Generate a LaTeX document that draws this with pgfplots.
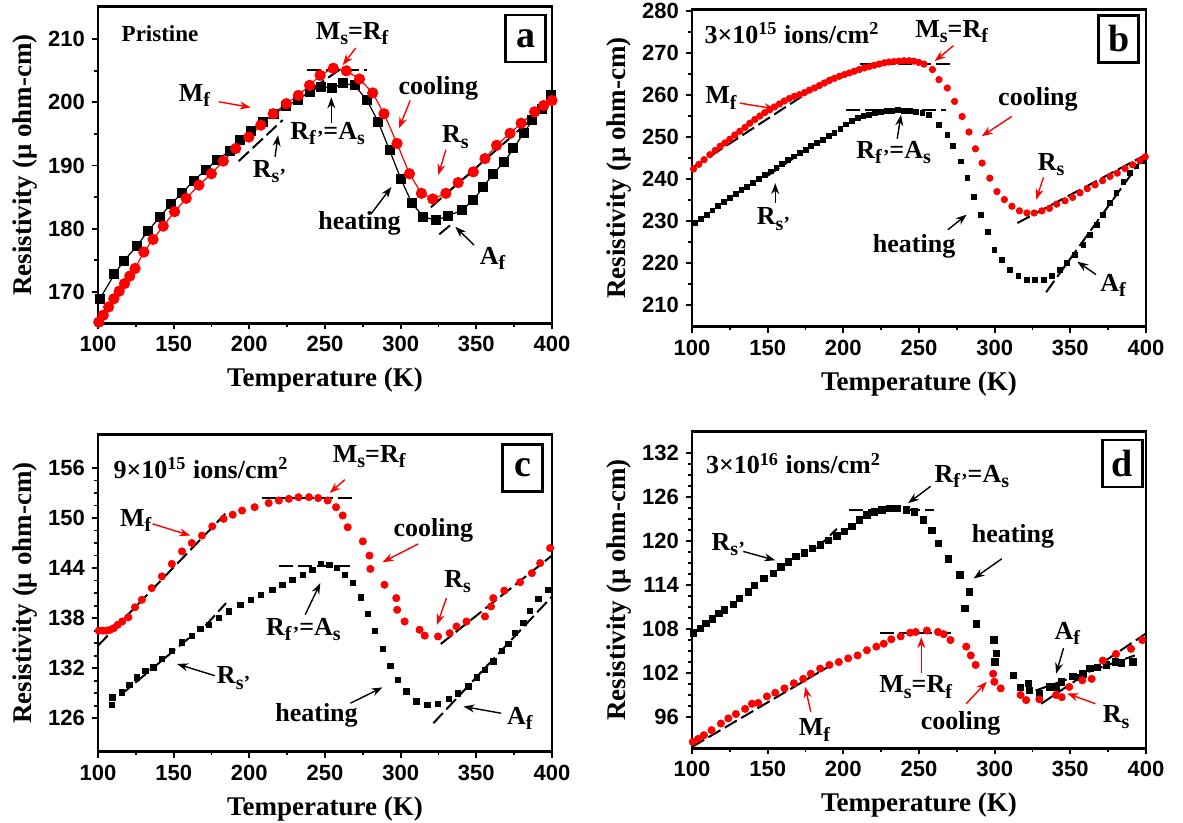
\documentclass[border=0pt]{standalone}
\usepackage{fontspec}
\setmainfont{Liberation Serif}
\setsansfont{Liberation Sans}
\usepackage{pgfplots}
\pgfplotsset{compat=1.18}
\usetikzlibrary{arrows.meta}
\newcommand{\sub}[1]{\raisebox{-0.45ex}{\fontsize{10}{10}\selectfont #1}}
\tikzset{
  ann/.style={font=\bfseries\fontsize{13}{14}\selectfont, inner sep=0pt, text=black},
  ar/.style={-{Stealth[length=5.5pt,width=4pt]}, line width=0.7pt},
  dl/.style={black, line width=1pt, dash pattern=on 7pt off 2.5pt},
  lbox/.style={draw, line width=1.3pt, minimum width=20pt, minimum height=23.5pt, inner sep=0pt, font=\bfseries\fontsize{19}{19}\selectfont}
}
\pgfplotsset{
  panel/.style={
    scale only axis, width=227pt, height=158.5pt, anchor=south west,
    xmin=100, xmax=400, xtick={100,150,...,400}, minor x tick num=1,
    axis line style={line width=1.2pt},
    tick align=outside, tick pos=left,
    major tick length=3pt, minor tick length=1.8pt,
    every tick/.style={black, line width=0.9pt},
    tick label style={font=\sffamily\bfseries\fontsize{11}{12}\selectfont},
    /pgf/number format/assume math mode=true,
    xlabel={Temperature (K)}, ylabel={Resistivity (μ ohm-cm)},
    label style={font=\bfseries\fontsize{13.5}{15}\selectfont},
    xlabel style={at={(axis description cs:0.5,-0.18)}, anchor=center},
    ylabel style={at={(axis description cs:-0.16,0.5)}, anchor=center},
  },
  heat/.style={only marks, mark=square*, mark options={fill=black, draw=black}},
  cool/.style={only marks, mark=*, mark options={fill=red, draw=red}},
}
\begin{document}
\begin{tikzpicture}
\path[use as bounding box] (0pt,0pt) rectangle (591.5pt,-411.5pt);
% ---------------- panel a ----------------
\begin{axis}[panel, at={(49pt,-161.7pt)}, ymin=165, ymax=215.2, ytick={170,180,...,210}, minor y tick num=1]
\addplot[black, line width=0.6pt, mark=square*, mark size=2.2pt, mark options={fill=black}] coordinates {
(101,168.8) (110.9,172.8) (117.1,174.9) (125.8,177.3) (133.2,179.7) (140.7,181.8) (148.1,183.9) (155.5,185.6) (163.2,187.6) (171.2,189.3) (178.6,190.9) (187.0,192.3) (193.7,194.0) (200.9,195.5) (208.9,196.9) (216.3,198.2) (224.5,199.4) (231.9,200.4) (239.8,201.7) (247.3,202.5) (254.7,202.3) (262.2,203.0) (269.6,202.7) (277.8,200.3) (285.2,196.9) (292.7,192.4) (300.1,187.9) (307.5,184.0) (315.0,181.9) (323.2,181.3) (331.0,182.0) (340.2,182.9) (348.0,184.5) (354.6,186.6) (361.2,188.7) (368.5,190.6) (374.5,192.7) (381.2,195.1) (387.1,197.2) (393.3,199.0) (399.5,201.1)};
\addplot[red, line width=0.6pt, mark=*, mark size=2.5pt, mark options={fill=red}] coordinates {
(100.5,165.2) (103.5,166.3) (107,167.6) (110.5,168.9) (114,170.1) (117.5,171.3) (121,172.5) (124.5,173.7) (130.3,176.3) (136.4,178.3) (143.1,180.4) (150.6,182.7) (158.3,184.8) (166.7,186.9) (174.9,188.7) (182.8,190.7) (191.0,192.7) (199.7,194.5) (207.6,196.4) (215.8,198.2) (224.5,199.8) (232.4,201.1) (239.8,202.7) (246.8,204.3) (255.5,205.4) (264.1,205.0) (272.8,203.7) (281.5,201.5) (289.0,198.2) (297.6,193.5) (305.8,188.7) (313.7,185.6) (321.2,184.7) (329.9,185.6) (338.0,187.3) (348.0,189.0) (355.7,191.1) (363.4,193.2) (372.3,195.1) (379.6,196.7) (388.5,198.5) (394.5,199.5) (400,200.3)};
\addplot[dl] coordinates {(238,205.1) (278,205.1)};
\addplot[dl] coordinates {(241.8,202.2) (259.2,205.1)};
\addplot[dl] coordinates {(193,190.7) (222,197.2)};
\addplot[dl] coordinates {(320,183.4) (400,200.2)};
\addplot[dl] coordinates {(325.5,179.1) (334,180.8)};
\node[ann, anchor=west, font=\bfseries\fontsize{11.5}{13}\selectfont] at (axis cs:115.4,210.9) {Pristine};
\node[ann] at (axis cs:267.9,210.9) {M\sub{s}=R\sub{f}};
\draw[ar, red] (axis cs:270.3,208.6) -- (axis cs:261.7,205.9);
\node[ann] at (axis cs:163.7,201.1) {M\sub{f}};
\draw[ar, red] (axis cs:179.8,200.1) -- (axis cs:200.9,199.2);
\node[ann] at (axis cs:251.7,195.1) {R\sub{f'}=A\sub{s}};
\draw[ar] (axis cs:254.2,196.8) -- (axis cs:254.2,200.8);
\node[ann] at (axis cs:213.3,189.0) {R\sub{s'}};
\draw[ar] (axis cs:217,191.4) -- (axis cs:219,194.8);
\node[ann] at (axis cs:324.9,202.3) {cooling};
\draw[ar, red] (axis cs:306.3,200.3) -- (axis cs:298.9,195.9);
\node[ann] at (axis cs:336.1,194.5) {R\sub{s}};
\draw[ar, red] (axis cs:329.9,192.5) -- (axis cs:324.9,188.5);
\node[ann] at (axis cs:272.8,180.8) {heating};
\draw[ar] (axis cs:280.3,182.3) -- (axis cs:293.9,186.6);
\node[ann] at (axis cs:360.8,175.3) {A\sub{f}};
\draw[ar] (axis cs:348.5,177.4) -- (axis cs:336.1,180.3);
\node[lbox] at (axis cs:382.6,210.1) {a};
\end{axis}
% ---------------- panel b ----------------
\begin{axis}[panel, at={(346pt,-163.3pt)}, ymin=204.8, ymax=280.4, ytick={210,220,...,280}, minor y tick num=1]
\addplot[heat, mark size=1.2pt] coordinates {
(102.0,229.5) (106,230.5) (109.7,231.5) (113.5,232.5) (117.3,233.5) (121.2,234.5) (125.0,235.5) (128.8,236.5) (132.7,237.4) (136.5,238.2) (140.3,239.0) (144.2,240.0) (148.1,241.0) (152,241.8) (155.8,242.6) (159.6,243.6) (163.4,244.6) (167.2,245.4) (171.1,246.2) (175,247.0) (178.8,247.8) (182.6,248.6) (186.4,249.4) (190.2,250.2) (194.1,251.0) (198,252.0) (201.8,253.0) (205.6,253.8) (209.4,254.6) (213.2,255.0) (217.1,255.3) (221,255.7) (224.8,256.0) (228.6,256.2) (232.4,256.3) (236.2,256.4) (240.1,256.3) (243.9,256.2) (247.8,256.0) (252.2,255.7) (256.6,255.3) (263.2,252.9) (268.7,250.6) (272.6,247.8) (277.5,244.2) (282.0,240.2) (286.3,235.8) (290.7,231.5) (295.4,227.3) (299.8,223.1) (304.8,220.8) (310.3,218.4) (315.7,216.8) (321.3,216.0) (326.7,215.9) (332.3,216.0) (337.7,216.8) (343.3,218.4) (347.6,220.0) (353.2,221.9) (358.6,224.3) (363.0,226.7) (367.4,229.1) (371.7,231.5) (376.1,234.3) (380.5,236.7) (385.0,239.4) (389.3,241.4) (393.7,243.0) (398.0,244.2)};
\addplot[cool, mark size=1.6pt] coordinates {
(101,242.4) (104.5,243.5) (108,244.6) (111.8,245.8) (115.3,246.8) (118.6,247.8) (121.7,248.6) (125,249.5) (128.3,250.5) (131.6,251.4) (135,252.3) (138.2,253.3) (141.5,254.2) (144.8,255.0) (148,255.8) (151.3,256.5) (154.5,257.2) (157.8,257.9) (161,258.6) (164.3,259.2) (167.6,259.7) (171.0,260.1) (174.3,260.6) (177.6,261.2) (180.9,261.7) (184.2,262.3) (187.5,262.9) (190.8,263.5) (194.1,264.0) (197.4,264.5) (200.7,264.9) (204,265.3) (207.2,265.7) (210.5,266.1) (213.8,266.5) (217.1,266.8) (220.4,267.1) (223.7,267.4) (227,267.7) (230.2,267.9) (233.5,268.0) (236.8,268.1) (240.1,268.2) (243.3,268.2) (246.5,268.1) (249.8,267.8) (253.3,267.4) (258.9,266.1) (263.2,263.7) (268.7,261.7) (273.5,258.5) (278.5,254.9) (283.0,251.2) (287.3,247.2) (291.7,243.8) (296.8,240.2) (301.5,237.0) (306.4,235.1) (311.4,233.5) (316.4,232.4) (321.3,231.9) (326.1,231.9) (331.2,232.4) (336.2,233.0) (341.0,234.0) (346.5,234.8) (351.5,235.6) (356.4,236.7) (361.2,237.7) (366.3,238.6) (371.3,239.6) (376.2,240.6) (381.0,241.4) (386.1,242.5) (391.1,243.4) (396.0,244.4) (399.5,245.3)};
\addplot[dl] coordinates {(101.7,243.0) (192.2,264.3)};
\addplot[dl] coordinates {(210.8,267.5) (272.8,267.5)};
\addplot[dl] coordinates {(202,256.5) (268,256.5)};
\addplot[dl] coordinates {(150,240.8) (182,248.6)};
\addplot[dl] coordinates {(315,229.5) (400,245.8)};
\addplot[dl] coordinates {(334,213) (400,246)};
\node[ann, anchor=west] at (axis cs:108,274.8) {3×10\textsuperscript{15} ions/cm\textsuperscript{2}};
\node[ann] at (axis cs:271.6,275.2) {M\sub{s}=R\sub{f}};
\draw[ar, red] (axis cs:272.8,271.8) -- (axis cs:260.4,268.1);
\node[ann] at (axis cs:119.1,259.3) {M\sub{f}};
\draw[ar, red] (axis cs:131.5,258.1) -- (axis cs:155,256.7);
\node[ann] at (axis cs:233.2,246.3) {R\sub{f'}=A\sub{s}};
\draw[ar] (axis cs:235.6,249.6) -- (axis cs:238.1,255.3);
\node[ann] at (axis cs:153.8,230.4) {R\sub{s'}};
\draw[ar] (axis cs:155,234.3) -- (axis cs:155,239.0);
\node[ann] at (axis cs:328.6,258.9) {cooling};
\draw[ar, red] (axis cs:311.3,254.9) -- (axis cs:291.4,250.2);
\node[ann] at (axis cs:337.3,243.4) {R\sub{s}};
\draw[ar, red] (axis cs:332.3,240.4) -- (axis cs:327.4,235.1);
\node[ann] at (axis cs:246.8,223.9) {heating};
\draw[ar] (axis cs:269.1,227.9) -- (axis cs:281.5,231.5);
\node[ann] at (axis cs:378.2,214.6) {A\sub{f}};
\draw[ar] (axis cs:367.0,217.2) -- (axis cs:354.6,220.3);
\node[lbox] at (axis cs:381.9,273.4) {b};
\end{axis}
% ---------------- panel c ----------------
\begin{axis}[panel, at={(49pt,-375.8pt)}, ymin=122, ymax=160, ytick={126,132,...,156}, minor y tick num=3]
\addplot[heat, mark size=1.35pt] coordinates {
(109.1,127.6) (109.5,128.5) (115.7,129.1) (120.7,130.0) (125.7,130.9) (131.2,131.7) (136.7,132.1) (142.3,133.1) (148.9,134.1) (155.5,135.1) (162.2,135.9) (167.7,136.7) (173.2,137.2) (179.8,138.0) (186.5,138.8) (194.2,139.6) (200.9,140.2) (207.5,140.8) (215.3,141.4) (221.9,142.0) (228.5,142.6) (235.2,143.2) (241.8,143.8) (247.3,144.5) (252.8,144.4) (257.9,144.0) (263.2,143.2) (268.3,142.2) (273.9,140.5) (278.3,138.5) (283.1,136.5) (288.3,134.3) (293.3,132.3) (298.2,130.6) (303.7,129.2) (310.4,128.0) (317.7,127.6) (324.7,127.7) (331.8,128.3) (338.0,129.0) (344.7,129.8) (350.2,130.9) (355.7,131.8) (361.2,132.8) (366.8,134.1) (371.2,134.9) (375.6,136.2) (381.2,137.4) (385.5,138.9) (391.1,140.3) (397.7,141.4)};
\addplot[cool, mark size=1.8pt] coordinates {
(100.5,136.5) (103,136.5) (105.5,136.5) (108,136.6) (110.5,136.8) (113,137.2) (116,137.6) (120.1,138.1) (124.5,139.3) (129.0,140.2) (135.5,141.6) (142.2,143.0) (148.8,144.5) (155.5,146.0) (162,147.0) (168.7,147.9) (175.5,149.0) (183.0,149.9) (189,150.4) (195.2,150.9) (203.5,151.3) (212.8,151.8) (219.5,152.1) (226.1,152.3) (232.5,152.5) (239.4,152.5) (245.5,152.4) (251.8,152.1) (257.3,151.3) (261.7,150.3) (265.0,148.9) (275.0,147.2) (279.4,145.5) (280.0,143.9) (289.3,142.0) (297.1,140.4) (297.7,139.0) (302.6,137.6) (312.5,136.6) (315.9,135.9) (324.7,135.8) (332.4,136.2) (336.9,137.0) (343.5,137.6) (355.7,138.2) (359.7,139.4) (361.2,140.4) (368.5,141.3) (378.9,142.3) (386.7,143.4) (392.2,144.6) (398.8,146.4)};
\addplot[dl] coordinates {(100,134.7) (184.1,150.5)};
\addplot[dl] coordinates {(208.3,152.4) (268,152.4)};
\addplot[dl] coordinates {(219.5,144.3) (268,144.3)};
\addplot[dl] coordinates {(171,137.1) (184.6,139.8)};
\addplot[dl] coordinates {(115,128.8) (160,135.6)};
\addplot[dl] coordinates {(326.5,134.9) (400,145.5)};
\addplot[dl] coordinates {(321.6,125.4) (400,140.6)};
\node[ann, anchor=west] at (axis cs:110,156.0) {9×10\textsuperscript{15} ions/cm\textsuperscript{2}};
\node[ann] at (axis cs:279.2,157.4) {M\sub{s}=R\sub{f}};
\draw[ar, red] (axis cs:263.1,154.6) -- (axis cs:253.1,153.0);
\node[ann] at (axis cs:124.9,149.7) {M\sub{f}};
\draw[ar, red] (axis cs:136.1,149.3) -- (axis cs:161.0,147.9);
\node[ann] at (axis cs:321.6,148.5) {cooling};
\draw[ar, red] (axis cs:311.6,146.9) -- (axis cs:288.0,144.7);
\node[ann] at (axis cs:235.7,136.6) {R\sub{f'}=A\sub{s}};
\draw[ar] (axis cs:236.9,138.4) -- (axis cs:246.9,142.2);
\node[ann] at (axis cs:337.7,142.4) {R\sub{s}};
\draw[ar, red] (axis cs:330.3,140.4) -- (axis cs:324.0,137.2);
\node[ann] at (axis cs:189.6,130.8) {R\sub{s'}};
\draw[ar] (axis cs:177.2,131.1) -- (axis cs:152.3,132.5);
\node[ann] at (axis cs:244.4,126.4) {heating};
\draw[ar] (axis cs:266.8,127.8) -- (axis cs:288.0,129.7);
\node[ann] at (axis cs:378.8,126.0) {A\sub{f}};
\draw[ar] (axis cs:366.4,126.6) -- (axis cs:341.5,127.4);
\node[lbox] at (axis cs:380.6,156.0) {c};
\end{axis}
% ---------------- panel d ----------------
\begin{axis}[panel, at={(346pt,-374.2pt)}, ymin=91.7, ymax=135, ytick={96,102,...,132}, minor y tick num=3]
\addplot[heat, mark size=1.6pt] coordinates {
(101,107.5) (105.4,108.1) (109.2,108.8) (113.4,109.4) (117.8,110.1) (121.5,110.6) (127.2,111.4) (131.4,112.2) (137.1,113.1) (141.3,114.0) (147.5,114.9) (153.7,115.6) (158.7,116.5) (163.6,117.2) (168.6,117.9) (174.3,118.4) (179.7,119.0) (184.7,119.5) (190.1,120.1) (195.8,120.7) (200.7,121.3) (205.7,122.0) (210.6,122.9) (215.6,123.6) (220.5,124.0) (225.5,124.3) (230.4,124.5) (235.4,124.5) (241.6,124.3) (247,124.0) (252.9,122.9) (258.4,121.5) (262.8,119.7) (269.4,117.6) (277.1,115.4) (283.3,113.1) (280.4,110.8) (288.1,108.7) (299.5,106.5) (301.3,104.7) (300.2,103.5) (312.3,101.7) (317.1,100.0) (322.2,100.6) (322.8,99.6) (329.4,99.2) (336.0,100.1) (340.6,100.0) (344.1,100.8) (351.7,101.5) (355.1,101.4) (358.4,101.9) (362.8,102.6) (367.8,102.8) (374.0,103.1) (379.7,103.5) (383.7,103.4) (391.4,103.5)};
\addplot[cool, mark size=1.8pt] coordinates {
(100.5,92.6) (104,93.0) (107.9,93.5) (112.9,94.2) (119.1,95.1) (124.0,95.8) (129.0,96.4) (135.1,97.1) (139.6,97.8) (143.8,97.9) (149.5,98.8) (155.0,99.3) (161.1,99.9) (167.3,100.6) (173.5,101.2) (178.5,101.9) (184.7,102.6) (190.8,103.1) (197.0,103.5) (203.2,104.0) (209.4,104.4) (215.6,105.1) (221.8,105.6) (226.7,106.0) (231.7,106.6) (237.9,107.0) (244.1,107.5) (247.8,107.6) (255.2,107.8) (262.6,107.6) (266.3,107.3) (270.8,106.5) (281.2,105.6) (284.2,104.4) (287.4,103.1) (299.0,101.9) (299.8,100.8) (304.0,99.9) (317.1,99.0) (320.8,98.3) (329.5,98.4) (340.6,99.0) (344.3,98.7) (349.3,100.1) (357.9,101.0) (364.1,101.2) (371.5,103.7) (380.2,104.6) (390.1,105.3) (397.5,106.5)};
\addplot[dl] coordinates {(100,91.9) (192.1,103.1)};
\addplot[dl] coordinates {(182.2,119.0) (195.8,121.7)};
\addplot[dl] coordinates {(204,124.3) (260,124.3)};
\addplot[dl] coordinates {(224.3,107.5) (271.3,107.5)};
\addplot[dl] coordinates {(330.7,97.8) (400,107.4)};
\addplot[dl] coordinates {(327,99.6) (392.6,104.4)};
\node[ann, anchor=west] at (axis cs:109,130.6) {3×10\textsuperscript{16} ions/cm\textsuperscript{2}};
\node[ann] at (axis cs:284.9,128.8) {R\sub{f'}=A\sub{s}};
\draw[ar] (axis cs:257.7,127.5) -- (axis cs:242.8,125.2);
\node[ann] at (axis cs:124.0,119.5) {R\sub{s'}};
\draw[ar] (axis cs:133.9,118.6) -- (axis cs:155.0,117.4);
\node[ann] at (axis cs:312.1,120.7) {heating};
\draw[ar] (axis cs:304.7,117.6) -- (axis cs:286.1,114.9);
\node[ann] at (axis cs:348.0,107.4) {A\sub{f}};
\draw[ar] (axis cs:345.5,105.4) -- (axis cs:340.6,101.9);
\node[ann] at (axis cs:247.8,100.1) {M\sub{s}=R\sub{f}};
\draw[ar, red] (axis cs:251.5,102.0) -- (axis cs:251.5,106.9);
\node[ann] at (axis cs:180.9,94.2) {M\sub{f}};
\draw[ar, red] (axis cs:178.5,96.7) -- (axis cs:174.8,100.1);
\node[ann] at (axis cs:277.5,95.1) {cooling};
\draw[ar, red] (axis cs:281.2,97.8) -- (axis cs:294.8,100.8);
\node[ann] at (axis cs:380.2,96.0) {R\sub{s}};
\draw[ar, red] (axis cs:366.6,97.8) -- (axis cs:348,99.2);
\node[lbox] at (axis cs:384.5,130.6) {d};
\end{axis}
\end{tikzpicture}
\end{document}
